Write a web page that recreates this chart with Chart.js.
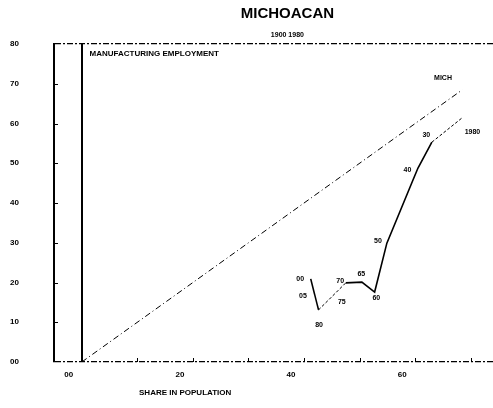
<!DOCTYPE html>
<html>
<head>
<meta charset="utf-8">
<script src="https://cdn.jsdelivr.net/npm/chart.js@4.4.0/dist/chart.umd.min.js"></script>
<style>
  html, body { margin: 0; padding: 0; background: #fff; }
  #wrap { width: 493px; height: 408px; }
</style>
</head>
<body>
<div id="wrap"><canvas id="michChart"></canvas></div>
<script>
// diagonal de referencia (empleo = poblacion)
const diagX = [0, 68.5];
const diagY = [0, 68.5];

// trayectoria de Michoacan
const pathX = [41.2, 42.6, 47.5, 50.4, 52.7, 54.9, 59.6, 60.5, 63.0, 68.6];
const pathY = [20.9, 13.1, 19.9, 20.1, 17.6, 29.9, 45.8, 48.8, 55.3, 61.6];
// segmentos punteados (indice del punto donde empiezan)
const dashedSegs = [1, 8];

// etiquetas sobre la grafica
const pointLabels = ['00', '05', '80', '70', '75', '65', '60', '50', '40', '30', '1980', 'MICH'];
const labelX = [39.3, 39.8, 42.7, 46.5, 46.8, 50.3, 53.0, 53.3, 58.6, 62.0, 70.3, 65.0];
const labelY = [20.9, 16.6, 9.3, 20.4, 15.1, 22.1, 16.1, 30.4, 48.3, 57.1, 57.9, 71.4];

const xTicks = [0, 10, 20, 30, 40, 50, 60, 70];
const xTickLabels = { 0: '00', 20: '20', 40: '40', 60: '60' };
const yTicks = [0, 10, 20, 30, 40, 50, 60, 70, 80];
const yTickLabels = ['00', '10', '20', '30', '40', '50', '60', '70', '80'];

const FAMILIA = '"Liberation Sans", Arial, sans-serif';

const toPoints = (xs, ys) => xs.map((v, i) => ({ x: v, y: ys[i] }));

// textos y marcas interiores
const textos = {
  id: 'textos',
  afterDraw(chart) {
    const { ctx, chartArea, scales: { x, y } } = chart;
    ctx.save();
    ctx.fillStyle = '#000';
    ctx.strokeStyle = '#000';

    ctx.lineWidth = 1;
    ctx.beginPath();
    xTicks.forEach(v => {
      if (v === 0) return;
      const px = Math.round(x.getPixelForValue(v)) + 0.5;
      ctx.moveTo(px, chartArea.bottom);
      ctx.lineTo(px, chartArea.bottom - 4);
    });
    yTicks.forEach(v => {
      if (v === 0 || v === 80) return;
      const py = Math.round(y.getPixelForValue(v)) + 0.5;
      ctx.moveTo(chartArea.left, py);
      ctx.lineTo(chartArea.left + 4, py);
    });
    ctx.stroke();

    const cx = (x.getPixelForValue(0) + chartArea.right) / 2;
    ctx.textAlign = 'center';
    ctx.textBaseline = 'middle';
    ctx.font = 'bold 15px ' + FAMILIA;
    ctx.fillText('MICHOACAN', cx, 14);
    ctx.font = 'bold 7px ' + FAMILIA;
    ctx.fillText('1900 1980', cx, 35);

    ctx.textAlign = 'left';
    ctx.font = 'bold 8px ' + FAMILIA;
    ctx.fillText('MANUFACTURING EMPLOYMENT', x.getPixelForValue(1.4), chartArea.top + 10);
    ctx.fillText('SHARE IN POPULATION', x.getPixelForValue(10.3), 393);

    ctx.textAlign = 'center';
    ctx.font = 'bold 7px ' + FAMILIA;
    pointLabels.forEach((t, i) => {
      ctx.fillText(t, x.getPixelForValue(labelX[i]), y.getPixelForValue(labelY[i]));
    });
    ctx.restore();
  }
};

const data = {
  datasets: [{
    label: 'MICH',
    data: toPoints(diagX, diagY),
    showLine: true,
    borderColor: '#000',
    borderWidth: 1,
    borderDash: [6, 3, 1, 3],
    pointRadius: 0,
  }, {
    label: 'Michoacan',
    data: toPoints(pathX, pathY),
    showLine: true,
    borderColor: '#000',
    borderWidth: 1.6,
    pointRadius: 0,
    segment: {
      borderDash: c => dashedSegs.includes(c.p0DataIndex) ? [3, 2] : undefined,
      borderWidth: c => dashedSegs.includes(c.p0DataIndex) ? 1 : undefined,
    },
  }]
};

const config = {
  type: 'scatter',
  data: data,
  options: {
    responsive: true,
    maintainAspectRatio: false,
    animation: false,
    layout: { padding: { left: 10, top: 44, right: 0, bottom: 0 } },
    plugins: {
      legend: { display: false },
      tooltip: { enabled: false },
    },
    scales: {
      x: {
        type: 'linear',
        min: -5,
        max: 74,
        afterBuildTicks: s => { s.ticks = xTicks.map(v => ({ value: v })); },
        afterFit: s => { s.height = 46; },
        ticks: {
          color: '#000',
          font: { family: FAMILIA, size: 8, weight: 'bold' },
          padding: 8,
          labelOffset: -13,
          maxRotation: 0,
          autoSkip: false,
          callback: v => xTickLabels[v] || '',
        },
        grid: {
          drawTicks: false,
          color: c => (c.tick && c.tick.value === 0) ? '#000' : 'rgba(0,0,0,0)',
          lineWidth: 2,
        },
        border: { display: false },
      },
      y: {
        type: 'linear',
        min: 0,
        max: 80,
        afterBuildTicks: s => { s.ticks = yTicks.map(v => ({ value: v })); },
        afterFit: s => { s.width = 44; },
        ticks: {
          color: '#000',
          font: { family: FAMILIA, size: 8, weight: 'bold' },
          crossAlign: 'far',
          autoSkip: false,
          callback: v => yTickLabels[yTicks.indexOf(v)],
        },
        grid: {
          drawTicks: false,
          color: c => (c.tick && (c.tick.value === 0 || c.tick.value === 80)) ? '#000' : 'rgba(0,0,0,0)',
          lineWidth: 1.2,
        },
        border: { display: true, color: '#000', width: 2, dash: [6, 2, 2, 2] },
      },
    },
  },
  plugins: [textos],
};

new Chart(document.getElementById('michChart'), config);
</script>
</body>
</html>
